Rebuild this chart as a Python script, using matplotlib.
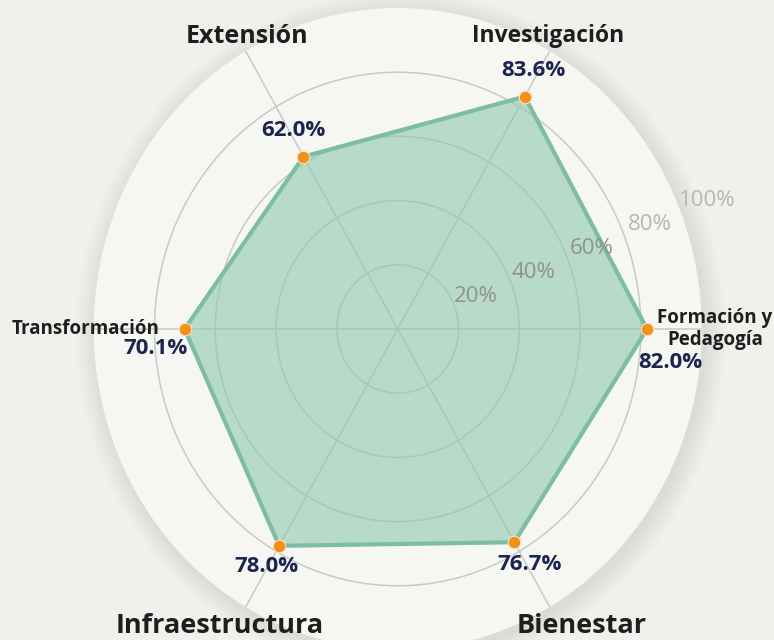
import numpy as np
import matplotlib.pyplot as plt
from matplotlib import font_manager
from matplotlib.patches import Ellipse

# data
categories = ['Formación y\nPedagogía', 'Investigación', 'Extensión',
              'Transformación', 'Infraestructura', 'Bienestar']
values = [82.0, 83.6, 62.0, 70.1, 78.0, 76.7]
ring_ticks = [20, 40, 60, 80, 100]

# pick an installed family that really has a bold face
family = 'DejaVu Sans'
for fam in ['Noto Sans', 'Open Sans', 'Lato', 'Roboto', 'Inter']:
    weights = [f.weight for f in font_manager.fontManager.ttflist if f.name == fam]
    if any((w == 'bold') or (isinstance(w, int) and w >= 700) for w in weights):
        family = fam
        break
plt.rcParams['font.family'] = [family, 'DejaVu Sans']

W, H = 774, 640
fig = plt.figure(figsize=(W / 100, H / 100), dpi=100, facecolor='#f0f0ed')


def px(x, y):
    # pixel position (from top-left) -> figure fraction
    return x / W, 1 - y / H


# chart centre and radius of the 100% ring, in pixels
cx, cy = 397.7, H - 329
rx, ry = 304, 321

# soft shadow behind the disk
bg = fig.add_axes([0, 0, 1, 1], zorder=0)
bg.set_xlim(0, W)
bg.set_ylim(0, H)
bg.axis('off')
for k in range(1, 22):
    bg.add_patch(Ellipse((cx + 3, cy - 4), 2 * (rx + k), 2 * (ry + k),
                         facecolor='black', alpha=0.0035, lw=0))

ax = fig.add_axes([(cx - rx) / W, (cy - ry) / H, 2 * rx / W, 2 * ry / H],
                  projection='polar', zorder=1)
ax.set_aspect('auto')
ax.set_facecolor('#f6f6f3')
ax.spines['polar'].set_visible(False)

n = len(values)
angles = np.linspace(0, 2 * np.pi, n, endpoint=False)
ang_c = np.append(angles, angles[0])
val_c = np.append(values, values[0])

ax.set_ylim(0, 100)
ax.set_yticks(ring_ticks[:-1])
ax.set_yticklabels([])
ax.set_xticks(angles)
ax.set_xticklabels([])
ax.set_axisbelow(True)
ax.grid(True, color='#c9c9c6', lw=1.1)
ax.tick_params(length=0)

ax.fill(ang_c, val_c, color='#92c9b0', alpha=0.62, lw=0, zorder=2)
ax.plot(ang_c, val_c, color='#7dbda3', lw=3.0, zorder=3)
ax.plot(angles, values, 'o', color='#f39019', ms=9, mec='#fbe3c6', mew=0.8,
        zorder=4, clip_on=False)

# ring labels
lab_ang = np.deg2rad(21.5)
for t in ring_ticks:
    col = '#8f9290' if t <= 60 else '#b6b6b4'
    ax.text(lab_ang, t * 1.025 + 7, f'{t}%', color=col, fontsize=16,
            ha='center', va='center', zorder=5, clip_on=False)

# value labels
label_offsets = [(17, -24), (6, 19), (-7, 18.5), (-21, -14), (-9, -15), (11, -16)]
for a, v, off in zip(angles, values, label_offsets):
    ax.annotate(f'{v:.1f}%', xy=(a, v), xytext=off, textcoords='offset points',
                ha='center', va='center', fontsize=16, fontweight='bold',
                color='#1c2550', zorder=6, annotation_clip=False)

# category labels
cat_pos = [(715, 323), (548, 42), (247, 43), (160, 334), (220, 633), (582, 633)]
cat_size = [13.5, 16.5, 18, 13.5, 19.5, 19.5]
cat_ha = ['center', 'center', 'center', 'right', 'center', 'center']
for name, p, s, ha in zip(categories, cat_pos, cat_size, cat_ha):
    x, y = px(*p)
    lines = name.split('\n')
    for i, line in enumerate(lines):
        fig.text(x, y - i * 22 / H, line, ha=ha, va='baseline', fontsize=s,
                 fontweight='bold', color='#1e1e1e', zorder=7)

fig.savefig('out.png', dpi=100, facecolor=fig.get_facecolor())
